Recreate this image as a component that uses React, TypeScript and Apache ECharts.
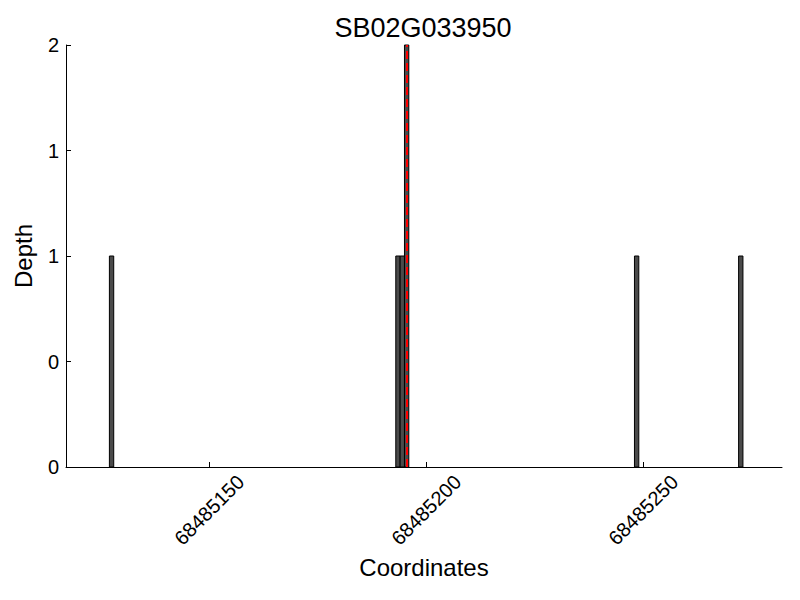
import React, { useEffect, useRef } from "react";
import * as echarts from "echarts";

const title = "SB02G033950";
const positions = [68485127, 68485193, 68485194, 68485195, 68485248, 68485272];
const depths = [1, 1, 1, 2, 1, 1];
const markerPos = 68485195.5;
const xTicks = [68485150, 68485200, 68485250];
const xMin = 68485117;
const xMax = 68485282;

const FONT = "Liberation Sans";

export default function App() {
  const ref = useRef<HTMLDivElement>(null);
  useEffect(() => {
    if (!ref.current) return;
    const chart = echarts.init(ref.current, null, { renderer: "svg" });
    const data = positions.map((p, i) => [p, depths[i]]);
    chart.setOption({
      animation: false,
      backgroundColor: "#ffffff",
      title: {
        text: title,
        left: 418,
        textAlign: "center",
        top: 9,
        textStyle: { fontFamily: FONT, fontSize: 27, fontWeight: "normal", color: "#000" },
      },
      grid: { left: 66, right: 18, top: 45, bottom: 133 },
      xAxis: {
        type: "value",
        min: xMin,
        max: xMax,
        name: "Coordinates",
        nameLocation: "middle",
        nameGap: 87,
        nameTextStyle: { fontFamily: FONT, fontSize: 24, color: "#000" },
        axisLine: { lineStyle: { color: "#000", width: 1 } },
        axisTick: { inside: true, length: 5, customValues: xTicks, lineStyle: { color: "#000" } },
        axisLabel: {
          customValues: xTicks,
          rotate: 45,
          align: "center",
          verticalAlign: "middle",
          margin: 43,
          fontFamily: FONT,
          fontSize: 20,
          color: "#000",
          formatter: (v: number) => String(v),
        },
        splitLine: { show: false },
      },
      yAxis: {
        type: "value",
        min: 0,
        max: 2,
        interval: 0.5,
        name: "Depth",
        nameLocation: "middle",
        nameGap: 31,
        nameTextStyle: { fontFamily: FONT, fontSize: 24, color: "#000" },
        axisLine: { show: true, lineStyle: { color: "#000", width: 1 } },
        axisTick: { show: true, inside: true, length: 5, lineStyle: { color: "#000" } },
        axisLabel: {
          margin: 7,
          fontFamily: FONT,
          fontSize: 20,
          color: "#000",
          formatter: (v: number) => String(Math.floor(v)),
        },
        splitLine: { show: false },
      },
      series: [
        {
          type: "custom",
          data,
          renderItem: (params: any, api: any) => {
            const x = api.value(0);
            const y = api.value(1);
            const p0 = api.coord([x, y]);
            const p1 = api.coord([x + 1, 0]);
            return {
              type: "rect",
              shape: { x: p0[0], y: p0[1], width: p1[0] - p0[0], height: p1[1] - p0[1] },
              style: { fill: "#4a4a4a", stroke: "#000", lineWidth: 1 },
            };
          },
          markLine: {
            silent: true,
            symbol: "none",
            label: { show: false },
            lineStyle: { color: "#ff0000", type: [8, 4], width: 2 },
            data: [{ xAxis: markerPos }],
          },
          z: 2,
        },
      ],
    });
    return () => chart.dispose();
  }, []);
  return (
    <div
      ref={ref}
      style={{ position: "absolute", left: 0, top: 0, width: 800, height: 600, background: "#fff" }}
    />
  );
}
